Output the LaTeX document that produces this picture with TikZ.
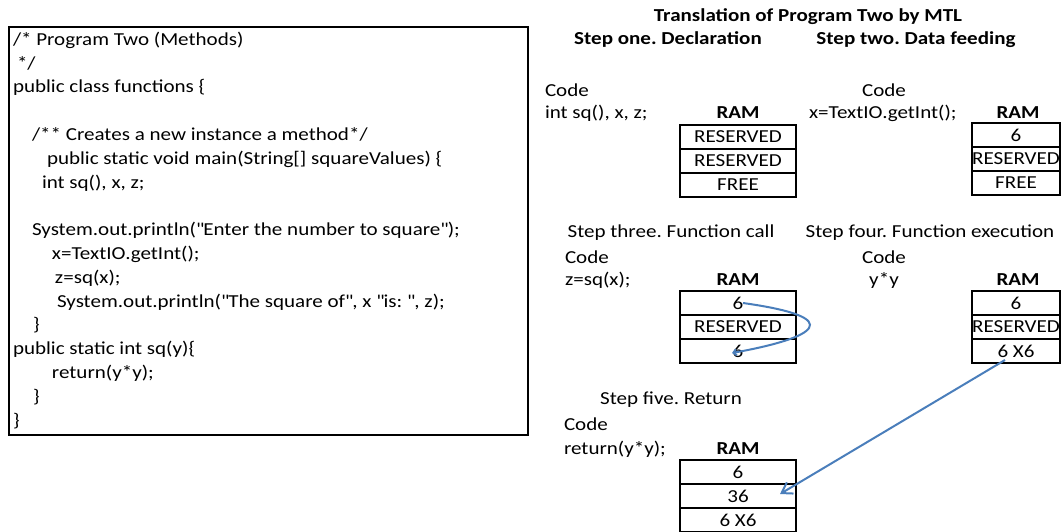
\documentclass[tikz,border=0pt]{standalone}
\usepackage{fontspec}
\setmainfont{Carlito}[FakeStretch=1.15]
\usetikzlibrary{positioning,arrows.meta}
\definecolor{flowblue}{RGB}{74,126,187}
\frenchspacing

\begin{document}
\begin{tikzpicture}[x=1pt, y=-1pt,
  every node/.style = {inner sep=0pt, outer sep=0pt,
    font=\fontsize{18.3}{23.8}\selectfont},
  cell/.style = {draw, line width=2.2pt, minimum height=24pt},
  widecell/.style = {cell, minimum width=116pt},
  narrowcell/.style = {cell, minimum width=88pt},
  rowlabel/.style = {left=3pt},
  head/.style = {font=\fontsize{18.3}{23.8}\selectfont\bfseries},
  flow/.style = {draw=flowblue, line width=2pt}]
  \useasboundingbox (0,0) rectangle (1062,531);

  \node[draw, line width=2.4pt, anchor=north west,
    minimum width=519pt, minimum height=408pt] (codebox) at (9,27) {};
  \node[anchor=north west, align=left] (code) at (13,32) {%
    /* Program Two (Methods)\\
    \hspace*{4pt}*/\\
    public class functions \{\\
    \mbox{}\\
    \hspace*{19pt}/** Creates a new instance a method*/\\
    \hspace*{34pt}public static void main(String[] squareValues) \{\\
    \hspace*{29pt}int sq(), x, z;\\
    \mbox{}\\
    \hspace*{19pt}System.out.println(\textquotedbl Enter the number to square\textquotedbl);\\
    \hspace*{39pt}x=TextIO.getInt();\\
    \hspace*{42pt}z=sq(x);\\
    \hspace*{44pt}System.out.println(\textquotedbl The square of\textquotedbl, x \textquotedbl is: \textquotedbl, z);\\
    \hspace*{20pt}\}\\
    public static int sq(y)\{\\
    \hspace*{39pt}return(y*y);\\
    \hspace*{20pt}\}\\
    \}};

  \node[head] (title) at (808,17) {Translation of Program Two by MTL};
  \node[head] (stepone) at (668,40) {Step one. Declaration};
  \node[head] (steptwo) at (916,40) {Step two. Data feeding};

  % step one
  \node[anchor=west] (code1) at (545,90) {Code};
  \node[anchor=west] (line1) at (545,113) {int sq(), x, z;};
  \node[head] (ram1) at (738,113) {RAM};
  \node[widecell] (s1x) at (738,137) {RESERVED};
  \node[widecell, below=0pt of s1x] (s1z) {RESERVED};
  \node[widecell, below=0pt of s1z] (s1f) {FREE};
  \node[rowlabel=of s1x] {x};
  \node[rowlabel=of s1z] {z};

  % step two
  \node (code2) at (884,90) {Code};
  \node[anchor=west] (line2) at (809,113) {x=TextIO.getInt();};
  \node[head] (ram2) at (1018,113) {RAM};
  \node[narrowcell] (s2x) at (1016,135) {6};
  \node[narrowcell, below=0pt of s2x] (s2z) {RESERVED};
  \node[narrowcell, below=0pt of s2z] (s2f) {FREE};
  \node[rowlabel=of s2x] {x};
  \node[rowlabel=of s2z] {z};

  % step three
  \node (stepthree) at (671,233) {Step three. Function call};
  \node[anchor=west] (code3) at (565,257) {Code};
  \node[anchor=west] (line3) at (565,280) {z=sq(x);};
  \node[head] (ram3) at (738,280) {RAM};
  \node[widecell] (s3x) at (738,303) {6};
  \node[widecell, below=0pt of s3x] (s3z) {RESERVED};
  \node[widecell, below=0pt of s3z] (s3y) {6};
  \node[rowlabel=of s3x] {x};
  \node[rowlabel=of s3z] {z};
  \node[rowlabel=of s3y] {y};

  % step four
  \node (stepfour) at (930,233) {Step four. Function execution};
  \node (code4) at (884,257) {Code};
  \node (line4) at (884,280) {y*y};
  \node[head] (ram4) at (1018,280) {RAM};
  \node[narrowcell] (s4x) at (1016,303) {6};
  \node[narrowcell, below=0pt of s4x] (s4z) {RESERVED};
  \node[narrowcell, below=0pt of s4z] (s4y) {6 X6};
  \node[rowlabel=of s4x] {x};
  \node[rowlabel=of s4z] {z};
  \node[rowlabel=of s4y] {y};

  % step five
  \node (stepfive) at (671,400) {Step five. Return};
  \node[anchor=west] (code5) at (564,424) {Code};
  \node[anchor=west] (line5) at (564,449) {return(y*y);};
  \node[head] (ram5) at (738,449) {RAM};
  \node[widecell] (s5x) at (738,472) {6};
  \node[widecell, below=0pt of s5x] (s5z) {36};
  \node[widecell, below=0pt of s5z] (s5y) {6 X6};
  \node[rowlabel=of s5x] {x};
  \node[rowlabel=of s5z] {z};
  \node[rowlabel=of s5y] {y};

  \draw[flow, -{Straight Barb[length=3pt,width=6pt]}]
    ([xshift=5pt]s3x.center) .. controls (850,318) and (815,338)
    .. ([xshift=-6pt,yshift=-2pt]s3y.center);
  \draw[flow, -{Straight Barb[length=10pt,width=13pt]}]
    ([xshift=-11pt,yshift=-9pt]s4y.center) -- ([xshift=42pt,yshift=2pt]s5z.center);
\end{tikzpicture}
\end{document}
